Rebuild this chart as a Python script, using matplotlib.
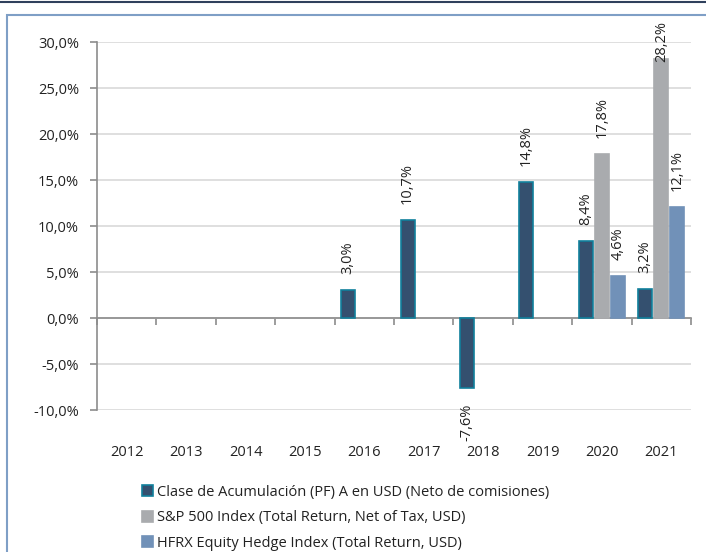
import numpy as np
import matplotlib
matplotlib.use('Agg')
import matplotlib.pyplot as plt
from matplotlib.patches import Rectangle
from matplotlib.lines import Line2D
import matplotlib.transforms as mtransforms

plt.rcParams['font.family'] = ['Open Sans', 'DejaVu Sans']

# datos
anios = ['2012', '2013', '2014', '2015', '2016', '2017', '2018', '2019', '2020', '2021']
fondo = [np.nan, np.nan, np.nan, np.nan, 3.0, 10.7, -7.6, 14.8, 8.4, 3.2]
sp500 = [np.nan, np.nan, np.nan, np.nan, np.nan, np.nan, np.nan, np.nan, 17.8, 28.2]
hfrx = [np.nan, np.nan, np.nan, np.nan, np.nan, np.nan, np.nan, np.nan, 4.6, 12.1]
series = ['Clase de Acumulación (PF) A en USD (Neto de comisiones)',
          'S&P 500 Index (Total Return, Net of Tax, USD)',
          'HFRX Equity Hedge Index (Total Return, USD)']
yticks = [-10, -5, 0, 5, 10, 15, 20, 25, 30]

colores = ['#34506f', '#a9abae', '#7191b8']
bordes = ['#11809c', '#a9abae', '#7191b8']

W, H = 706, 552
fig = plt.figure(figsize=(W / 100, H / 100), dpi=100)

# marco
fig.add_artist(Line2D([0, 1], [1 - 1.5 / H, 1 - 1.5 / H], color='#2f405c', lw=1.5))
fig.add_artist(Rectangle((7 / W, -0.1), 1.2, 1 - 15 / H + 0.1, fill=False,
                         edgecolor='#7f9fc6', lw=1.5))

ax = fig.add_axes([97 / W, (H - 410) / H, (691 - 97) / W, (410 - 42) / H])

x = np.arange(len(anios))
ancho = 0.236
paso = 0.27
todos = [fondo, sp500, hfrx]
etiquetas = []
for i, vals in enumerate(todos):
    pos = x + (i - 1) * paso
    ax.bar(pos, vals, ancho, color=colores[i], edgecolor=bordes[i], linewidth=1.2,
           label=series[i], zorder=3)
    for xp, v in zip(pos, vals):
        if np.isnan(v):
            continue
        txt = ('%.1f%%' % v).replace('.', ',')
        off = 16 if v >= 0 else -16
        t = ax.annotate(txt, (xp, v), xytext=(0, off), textcoords='offset pixels',
                        rotation=90, ha='center', va='bottom' if v >= 0 else 'top',
                        fontsize=10.5, color='#222222', annotation_clip=False)
        etiquetas.append(t)

ax.set_xlim(-0.5, len(anios) - 0.5)
ax.set_ylim(-10, 30)
ax.set_yticks(yticks)
ax.set_yticklabels([('%.1f%%' % t).replace('.', ',') for t in yticks], fontsize=10.5,
                   color='#222222')
ax.yaxis.grid(True, color='#d9d9d9', lw=1.2, zorder=0)
ax.set_axisbelow(True)

for s in ['top', 'right']:
    ax.spines[s].set_visible(False)
ax.spines['left'].set_color('#8c8c8c')
ax.spines['left'].set_linewidth(1.2)
ax.spines['bottom'].set_position(('data', 0))
ax.spines['bottom'].set_color('#8c8c8c')
ax.spines['bottom'].set_linewidth(1.2)
ax.set_xticks(np.arange(len(anios) + 1) - 0.5)
ax.set_xticklabels([])
ax.tick_params(axis='x', direction='out', length=5, color='#8c8c8c', width=1.2)
ax.tick_params(axis='y', direction='out', length=5, color='#8c8c8c', width=1.2, pad=8)

trans = mtransforms.blended_transform_factory(ax.transData, ax.transAxes)
for xp, a in zip(x, anios):
    ax.text(xp, -0.115, a, transform=trans, ha='center', va='center', fontsize=10.5,
            color='#222222')

fig.legend(loc='upper left', bbox_to_anchor=(136 / W, 1 - 479 / H), frameon=False,
           fontsize=10.5, handlelength=0.75, handleheight=0.75, handletextpad=0.3,
           labelspacing=0.72, borderaxespad=0, labelcolor='#222222')

# etiquetas que salen por arriba se bajan (como Excel)
fig.canvas.draw()
r = fig.canvas.get_renderer()
limite = H - 21
for t in etiquetas:
    bb = t.get_window_extent(r)
    if bb.y1 > limite:
        dx, dy = t.xyann
        t.xyann = (dx, dy - (bb.y1 - limite))

fig.savefig('out.png', dpi=100)
